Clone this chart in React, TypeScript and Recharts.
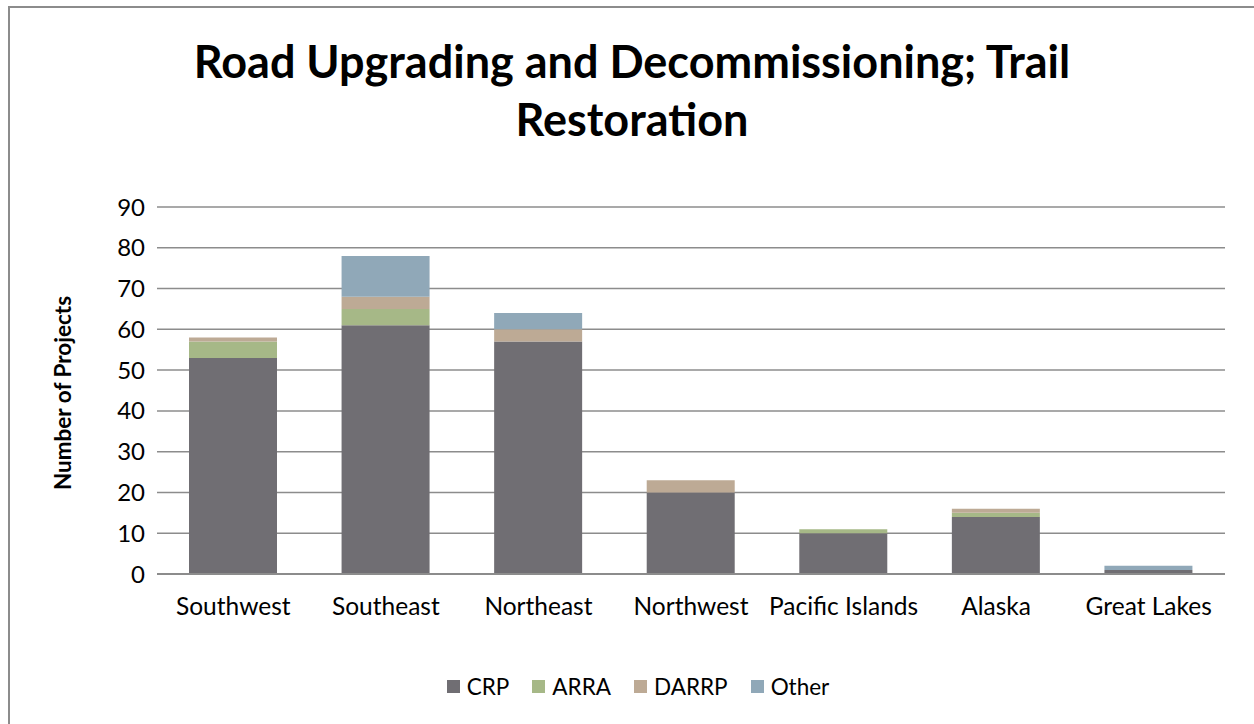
import { BarChart, Bar, XAxis, YAxis, CartesianGrid } from 'recharts';

const regions = ['Southwest', 'Southeast', 'Northeast', 'Northwest', 'Pacific Islands', 'Alaska', 'Great Lakes'];
const crp = [53, 61, 57, 20, 10, 14, 1];
const arra = [4, 4, 0, 0, 1, 1, 0];
const darrp = [1, 3, 3, 3, 0, 1, 0];
const other = [0, 10, 4, 0, 0, 0, 1];
const yTicks = [0, 10, 20, 30, 40, 50, 60, 70, 80, 90];

const series = [
  { key: 'CRP', values: crp, color: '#706e73' },
  { key: 'ARRA', values: arra, color: '#a6b887' },
  { key: 'DARRP', values: darrp, color: '#bdaa95' },
  { key: 'Other', values: other, color: '#90a8b8' },
];

const data = regions.map((region, i) => {
  const row: Record<string, string | number> = { region };
  series.forEach((s) => {
    row[s.key] = s.values[i];
  });
  return row;
});

const FONT = 'Lato, "Open Sans", sans-serif';

export default function App() {
  return (
    <div
      style={{
        position: 'absolute',
        left: 8,
        top: 6,
        width: 1244,
        height: 716,
        borderLeft: '2px solid #8c8c8c',
        borderTop: '2px solid #8c8c8c',
        background: '#fff',
        fontFamily: FONT,
      }}
    >
      <div
        style={{
          position: 'absolute',
          left: 0,
          width: 1244,
          top: 24,
          textAlign: 'center',
          fontSize: 45,
          fontWeight: 700,
          lineHeight: '58px',
          color: '#000',
        }}
      >
        Road Upgrading and Decommissioning; Trail
        <br />
        Restoration
      </div>
      <div
        style={{
          position: 'absolute',
          left: 52,
          top: 385,
          transform: 'translate(-50%, -50%) rotate(-90deg)',
          fontSize: 22.5,
          fontWeight: 700,
          whiteSpace: 'nowrap',
        }}
      >
        Number of Projects
      </div>
      <BarChart
        width={1236}
        height={700}
        data={data}
        margin={{ top: 199, right: 21, left: 87, bottom: 104 }}
        barCategoryGap="21%"
      >
        <CartesianGrid vertical={false} stroke="#8c8c8c" strokeWidth={1.5} />
        <XAxis
          dataKey="region"
          tickLine={false}
          axisLine={{ stroke: '#8c8c8c', strokeWidth: 2 }}
          tick={{ fontSize: 24.5, fill: '#000', fontFamily: FONT }}
          tickMargin={18}
          interval={0}
          height={30}
        />
        <YAxis
          domain={[0, 90]}
          ticks={yTicks}
          tickLine={false}
          axisLine={false}
          tick={{ fontSize: 24, fill: '#000', fontFamily: FONT }}
          tickMargin={6}
          width={60}
        />
        {series.map((s) => (
          <Bar
            key={s.key}
            dataKey={s.key}
            stackId="a"
            fill={s.color}
            isAnimationActive={false}
            barSize={88}
          />
        ))}
      </BarChart>
      <div
        style={{
          position: 'absolute',
          top: 666,
          left: 6,
          width: 1244,
          display: 'flex',
          justifyContent: 'center',
          gap: 23,
          fontSize: 22.5,
          lineHeight: '25px',
          color: '#000',
        }}
      >
        {series.map((s) => (
          <div key={s.key} style={{ display: 'flex', alignItems: 'center', gap: 7 }}>
            <span style={{ display: 'inline-block', width: 13, height: 13, background: s.color }} />
            <span>{s.key}</span>
          </div>
        ))}
      </div>
    </div>
  );
}
